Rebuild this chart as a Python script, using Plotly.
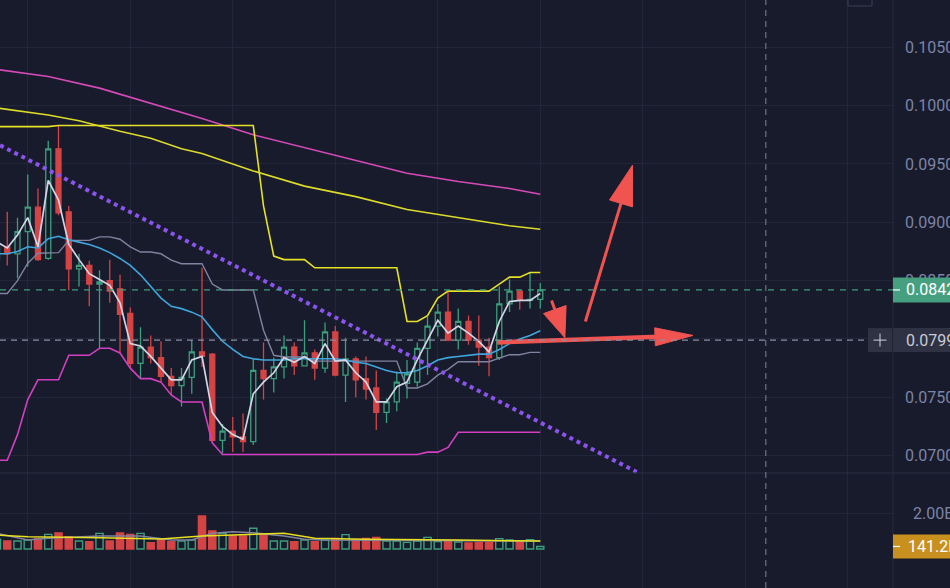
import math
import plotly.graph_objects as go

# ---------------- data ----------------
candle_idx = list(range(54))
opens = [0.0868, 0.0879, 0.0873, 0.0892, 0.0913, 0.0869, 0.0963, 0.0909, 0.0860, 0.0863,
         0.0847, 0.0850, 0.0843, 0.0822, 0.0779, 0.0793, 0.0784, 0.0768, 0.0760, 0.0767,
         0.0789, 0.0787, 0.0713, 0.0721, 0.0716, 0.0712, 0.0773, 0.0766, 0.0776, 0.0793,
         0.0777, 0.0788, 0.0775, 0.0806, 0.0769, 0.0783, 0.0766, 0.0758, 0.0737, 0.0746,
         0.0762, 0.0763, 0.0792, 0.0811, 0.0823, 0.0799, 0.0815, 0.0799, 0.0793, 0.0784,
         0.0830, 0.0841, 0.0833, 0.0834]
highs = [0.0885, 0.0909, 0.0904, 0.0941, 0.0929, 0.0970, 0.0983, 0.0914, 0.0873, 0.0867,
         0.0859, 0.0868, 0.0855, 0.0827, 0.0810, 0.0803, 0.0798, 0.0775, 0.0775, 0.0799,
         0.0861, 0.0788, 0.0727, 0.0733, 0.0736, 0.0783, 0.0797, 0.0784, 0.0803, 0.0797,
         0.0816, 0.0791, 0.0814, 0.0811, 0.0801, 0.0785, 0.0785, 0.0773, 0.0749, 0.0772,
         0.0782, 0.0797, 0.0819, 0.0830, 0.0841, 0.0826, 0.0820, 0.0820, 0.0801, 0.0845,
         0.0851, 0.0842, 0.0857, 0.0848]
lows = [0.0863, 0.0863, 0.0852, 0.0862, 0.0867, 0.0868, 0.0906, 0.0842, 0.0845, 0.0828,
        0.0792, 0.0831, 0.0788, 0.0775, 0.0766, 0.0779, 0.0763, 0.0752, 0.0742, 0.0753,
        0.0776, 0.0712, 0.0702, 0.0703, 0.0703, 0.0709, 0.0748, 0.0754, 0.0766, 0.0769,
        0.0777, 0.0765, 0.0771, 0.0768, 0.0746, 0.0750, 0.0748, 0.0722, 0.0728, 0.0738,
        0.0749, 0.0759, 0.0769, 0.0802, 0.0798, 0.0791, 0.0795, 0.0777, 0.0768, 0.0782,
        0.0823, 0.0825, 0.0826, 0.0826]
closes = [0.0879, 0.0873, 0.0892, 0.0913, 0.0868, 0.0963, 0.0908, 0.0860, 0.0863, 0.0847,
          0.0849, 0.0841, 0.0821, 0.0779, 0.0793, 0.0784, 0.0768, 0.0760, 0.0767, 0.0789,
          0.0785, 0.0713, 0.0721, 0.0716, 0.0712, 0.0773, 0.0766, 0.0776, 0.0793, 0.0777,
          0.0788, 0.0775, 0.0806, 0.0769, 0.0783, 0.0765, 0.0757, 0.0737, 0.0746, 0.0763,
          0.0770, 0.0792, 0.0811, 0.0823, 0.0799, 0.0815, 0.0799, 0.0793, 0.0784, 0.0830,
          0.0841, 0.0833, 0.0834, 0.0842]
volumes = [540e6, 444e6, 444e6, 500e6, 574e6, 815e6, 889e6, 685e6, 444e6, 407e6,
           870e6, 444e6, 889e6, 815e6, 870e6, 352e6, 519e6, 407e6, 444e6, 500e6,
           1830e6, 1000e6, 870e6, 722e6, 722e6, 1150e6, 778e6, 444e6, 444e6, 407e6,
           500e6, 407e6, 500e6, 593e6, 796e6, 500e6, 593e6, 648e6, 444e6, 444e6,
           370e6, 444e6, 648e6, 407e6, 407e6, 389e6, 333e6, 370e6, 370e6, 574e6,
           500e6, 407e6, 519e6, 141.2e6]

# Donchian channel (upper / lower), middle = average
upper_band = [0.0982] * 6 + [0.0983] * 20 + [0.0914, 0.0871] + [0.0868] * 3 + [0.0861] * 9 + \
             [0.0815, 0.0815, 0.0820, 0.0835] + [0.0841] * 5 + [0.0847, 0.0853, 0.0853, 0.0857, 0.0857]
lower_band = [0.0696, 0.0696, 0.0718, 0.0748, 0.0765, 0.0765, 0.0765, 0.0786, 0.0786, 0.0786,
              0.0792, 0.0792, 0.0788, 0.0775, 0.0766, 0.0766, 0.0763, 0.0752, 0.0746, 0.0746,
              0.0746, 0.0711] + [0.0701] * 20 + [0.0703, 0.0703, 0.0707] + [0.0720] * 9

fast_ma = [0.0883, 0.0878, 0.0889, 0.0904, 0.0879, 0.0936, 0.0919, 0.0881, 0.0868, 0.0856,
           0.0851, 0.0846, 0.0831, 0.0796, 0.0794, 0.0785, 0.0775, 0.0765, 0.0765, 0.0782,
           0.0785, 0.0737, 0.0725, 0.0718, 0.0714, 0.0753, 0.0763, 0.0771, 0.0784, 0.0780,
           0.0785, 0.0779, 0.0796, 0.0781, 0.0782, 0.0771, 0.0763, 0.0746, 0.0746, 0.0759,
           0.0763, 0.0782, 0.0799, 0.0816, 0.0805, 0.0811, 0.0805, 0.0798, 0.0789, 0.0815,
           0.0832, 0.0833, 0.0833, 0.0839]
mid_ma = [0.0873, 0.0873, 0.0875, 0.0879, 0.0878, 0.0886, 0.0888, 0.0885, 0.0883, 0.0881,
          0.0878, 0.0874, 0.0869, 0.0863, 0.0855, 0.0845, 0.0835, 0.0828, 0.0826, 0.0823,
          0.0819, 0.0808, 0.0798, 0.0791, 0.0785, 0.0783, 0.0782, 0.0782, 0.0782, 0.0783,
          0.0783, 0.0783, 0.0783, 0.0783, 0.0782, 0.0780, 0.0779, 0.0776, 0.0773, 0.0771,
          0.0771, 0.0773, 0.0777, 0.0782, 0.0784, 0.0785, 0.0786, 0.0787, 0.0787, 0.0791,
          0.0796, 0.0800, 0.0803, 0.0807]
ma_long_idx = [0, 5, 10, 15, 20, 25, 30, 35, 40, 45, 50, 53]
ma_long = [0.1031, 0.1025, 0.1015, 0.1002, 0.0989, 0.0975, 0.0964, 0.0953, 0.0942, 0.0935, 0.0929, 0.0924]
ma_med_idx = [0, 5, 8, 12, 15, 18, 20, 25, 30, 35, 40, 45, 50, 53]
ma_med = [0.0998, 0.0992, 0.0987, 0.0978, 0.0972, 0.0963, 0.0959, 0.0944, 0.0931, 0.0922,
          0.0911, 0.0904, 0.0897, 0.0894]
vol_ma1_idx = [0, 3, 10, 16, 20, 25, 28, 31, 36, 45, 53]
vol_ma1 = [780e6, 680e6, 630e6, 560e6, 720e6, 820e6, 870e6, 600e6, 540e6, 500e6, 440e6]
vol_ma2_idx = [0, 3, 5, 10, 14, 17, 19, 21, 23, 25, 28, 30, 32, 53]
vol_ma2 = [870e6, 500e6, 600e6, 720e6, 720e6, 500e6, 500e6, 870e6, 960e6, 900e6, 720e6,
           540e6, 500e6, 440e6]

price_ticks = [0.070, 0.075, 0.080, 0.085, 0.090, 0.095, 0.100, 0.105]
volume_ticks = [2.0e9]
volume_tick_text = ["2.00B"]
last_price = 0.0842
cursor_price = 0.0799
cursor_idx = 75
last_volume = 141.2e6
last_volume_text = "141.2M"
grid_idx = [3, 13, 23, 33, 43, 53, 63, 73, 83]

# drawings (anchored in bar index / price)
trend_idx = [0.3, 62.4]
trend_price = [0.0966, 0.0686]
arrow_tails = [(57.4, 0.0815), (48.8, 0.0797), (54.1, 0.0833)]
arrow_tips = [(62.0, 0.0949), (67.9, 0.0803), (55.4, 0.0801)]

# ---------------- style ----------------
W, H = 950, 588
R_MARGIN = 57
PLOT_W = W - R_MARGIN
BG = "#181b2c"
GRID = "#222638"
GREEN = "#3c9f7c"
RED = "#d44444"
ARROW_RED = "#f05350"
AXIS_TXT = "#7d84a5"
X_RANGE = [0.2927, 87.41]
Y_RANGE = [0.058652, 0.109055]
V_RANGE = [-2.1667e9, 30.5e9]
SX = PLOT_W / (X_RANGE[1] - X_RANGE[0])
SY = H / (Y_RANGE[1] - Y_RANGE[0])
SV = H / (V_RANGE[1] - V_RANGE[0])
FONT = "Roboto"
FS = 16

fig = go.Figure()

fig.add_trace(go.Candlestick(
    x=candle_idx, open=opens, high=highs, low=lows, close=closes,
    increasing=dict(line=dict(color=GREEN, width=1.3), fillcolor=BG),
    decreasing=dict(line=dict(color=RED, width=1.3), fillcolor=RED),
    whiskerwidth=0, hoverinfo="skip", showlegend=False))


def line(x, y, color, width, dash="solid", yaxis="y"):
    fig.add_trace(go.Scatter(x=x, y=y, mode="lines", yaxis=yaxis,
                             line=dict(color=color, width=width, dash=dash),
                             hoverinfo="skip", showlegend=False))


mid_band = [(u + l) / 2 for u, l in zip(upper_band, lower_band)]
line(ma_long_idx, ma_long, "#d64ab8", 1.6)
line(ma_med_idx, ma_med, "#dcdb2a", 1.6)
line(candle_idx, upper_band, "#e6e124", 1.6)
line(candle_idx, lower_band, "#d23fc0", 1.6)
line(candle_idx, mid_band, "#80839f", 1.4)
line(candle_idx, mid_ma, "#3ea6dc", 1.6)
line(candle_idx, fast_ma, "#d2d5e6", 1.7)
line(trend_idx, trend_price, "#8b53ef", 4, dash="dot")

# volume
vol_fill = [BG if c >= o else RED for o, c in zip(opens, closes)]
vol_line = [GREEN if c >= o else RED for o, c in zip(opens, closes)]
fig.add_trace(go.Bar(x=candle_idx, y=volumes, yaxis="y2", width=0.7,
                     marker=dict(color=vol_fill, line=dict(color=vol_line, width=1.4)),
                     hoverinfo="skip", showlegend=False))
line(vol_ma2_idx, vol_ma2, "#7f839e", 1.5, yaxis="y2")
line(vol_ma1_idx, vol_ma1, "#e6e020", 1.5, yaxis="y2")


# arrows
def to_px(ix, p):
    return (ix - X_RANGE[0]) * SX, (Y_RANGE[1] - p) * SY


def to_data(px, py):
    return px / SX + X_RANGE[0], Y_RANGE[1] - py / SY


shapes = []
arrow_style = [(3, 40, 12), (4.5, 38, 9), (3, 30, 12)]
for (t, h, (sw, hl, hw)) in zip(arrow_tails, arrow_tips, arrow_style):
    tx, ty = to_px(*t)
    hx, hy = to_px(*h)
    L = math.hypot(hx - tx, hy - ty)
    ux, uy = (hx - tx) / L, (hy - ty) / L
    bx, by = hx - ux * hl, hy - uy * hl
    nx, ny = -uy, ux
    p1 = to_data(bx + nx * hw, by + ny * hw)
    p2 = to_data(bx - nx * hw, by - ny * hw)
    base = to_data(bx + ux * 4, by + uy * 4)
    shapes.append(dict(type="line", xref="x", yref="y", x0=t[0], y0=t[1], x1=base[0], y1=base[1],
                       line=dict(color=ARROW_RED, width=sw), layer="above"))
    path = f"M {h[0]},{h[1]} L {p1[0]},{p1[1]} L {p2[0]},{p2[1]} Z"
    shapes.append(dict(type="path", xref="x", yref="y", path=path, fillcolor=ARROW_RED,
                       line=dict(color=ARROW_RED, width=1), layer="above"))

# ---------------- layout ----------------
xr = W / PLOT_W  # right edge of window in paper units
sep_y = V_RANGE[0] + (H - 473) / SV
shapes.append(dict(type="line", xref="paper", yref="y2", x0=0, x1=xr, y0=sep_y, y1=sep_y,
                   line=dict(color="#2a2e41", width=1)))
shapes.append(dict(type="line", xref="paper", yref="paper", x0=1, x1=1, y0=0, y1=1,
                   line=dict(color="#252a3b", width=1)))
# last price line
shapes.append(dict(type="line", xref="paper", yref="y", x0=0, x1=1, y0=last_price, y1=last_price,
                   line=dict(color=GREEN, width=1.3, dash="6px,6px")))
# crosshair
shapes.append(dict(type="line", xref="paper", yref="y", x0=0, x1=1 - 25 / PLOT_W,
                   y0=cursor_price, y1=cursor_price, line=dict(color="#8a8ea0", width=1.3, dash="6px,5px")))
shapes.append(dict(type="line", xref="x", yref="paper", x0=cursor_idx, x1=cursor_idx, y0=0, y1=1,
                   line=dict(color="#6d7183", width=1.2, dash="6px,5px")))
# label boxes
hp = 12.5 / SY
shapes.append(dict(type="rect", xref="paper", yref="y", x0=1, x1=xr + 0.01,
                   y0=last_price - hp, y1=last_price + hp, fillcolor="#46a07f", line=dict(width=0),
                   layer="above"))
shapes.append(dict(type="rect", xref="paper", yref="y", x0=1, x1=xr + 0.01,
                   y0=cursor_price - 12 / SY, y1=cursor_price + 12 / SY, fillcolor="#2e3243",
                   line=dict(width=0), layer="above"))
shapes.append(dict(type="rect", xref="paper", yref="y", x0=1 - 25 / PLOT_W, x1=1 - 1 / PLOT_W,
                   y0=cursor_price - 12 / SY, y1=cursor_price + 12 / SY, fillcolor="#2e3243",
                   line=dict(width=0), layer="above"))
shapes.append(dict(type="line", xref="paper", yref="y", x0=1 - 19.5 / PLOT_W, x1=1 - 6.5 / PLOT_W,
                   y0=cursor_price, y1=cursor_price, line=dict(color="#d0d3dc", width=1), layer="above"))
shapes.append(dict(type="line", xref="paper", yref="y", x0=1 - 13 / PLOT_W, x1=1 - 13 / PLOT_W,
                   y0=cursor_price - 6.5 / SY, y1=cursor_price + 6.5 / SY,
                   line=dict(color="#d0d3dc", width=1), layer="above"))
shapes.append(dict(type="rect", xref="paper", yref="y2", x0=1, x1=xr + 0.01,
                   y0=last_volume - 12 / SV, y1=last_volume + 12 / SV, fillcolor="#c8911f",
                   line=dict(width=0), layer="above"))
shapes.append(dict(type="line", xref="paper", yref="y", x0=1, x1=1 + 7 / PLOT_W,
                   y0=last_price, y1=last_price, line=dict(color="white", width=1.2), layer="above"))
shapes.append(dict(type="line", xref="paper", yref="y2", x0=1, x1=1 + 7 / PLOT_W,
                   y0=last_volume, y1=last_volume, line=dict(color="white", width=1.2), layer="above"))
shapes.append(dict(type="rect", xref="paper", yref="paper", x0=848 / PLOT_W, x1=872 / PLOT_W,
                   y0=1 - 6 / H, y1=1.02, line=dict(color="#3a3f56", width=1), fillcolor=BG))

annotations = [
    dict(xref="paper", yref="y", x=1, y=last_price, xanchor="left", yanchor="middle", xshift=11,
         text=f"{last_price:.4f}", showarrow=False, font=dict(family=FONT, size=FS, color="white")),
    dict(xref="paper", yref="y", x=1, y=cursor_price, xanchor="left", yanchor="middle", xshift=11,
         text=f"{cursor_price:.4f}", showarrow=False, font=dict(family=FONT, size=FS, color="#c9ccd6")),
    dict(xref="paper", yref="y2", x=1, y=last_volume, xanchor="left", yanchor="middle", xshift=13,
         text=last_volume_text, showarrow=False, font=dict(family=FONT, size=FS, color="white")),
]

fig.update_layout(
    width=W, height=H, template="none",
    margin=dict(l=0, r=R_MARGIN, t=0, b=0, pad=0),
    paper_bgcolor=BG, plot_bgcolor=BG,
    showlegend=False, hovermode=False,
    xaxis=dict(range=X_RANGE, showgrid=True, gridcolor=GRID, gridwidth=1, tickvals=grid_idx,
               showticklabels=False, zeroline=False, showline=False, ticks="",
               rangeslider=dict(visible=False), fixedrange=True, automargin=False),
    yaxis=dict(range=Y_RANGE, side="right", tickvals=price_ticks,
               ticktext=[f"{v:.4f}" for v in price_ticks], showgrid=True, gridcolor=GRID,
               zeroline=False, showline=False, ticks="", ticklabelstandoff=11,
               tickfont=dict(family=FONT, size=FS, color=AXIS_TXT), automargin=False, fixedrange=True),
    yaxis2=dict(range=V_RANGE, overlaying="y", side="right", tickvals=volume_ticks,
                ticktext=volume_tick_text, showgrid=True, gridcolor=GRID, zeroline=False,
                showline=False, ticks="", ticklabelstandoff=19,
                tickfont=dict(family=FONT, size=FS, color=AXIS_TXT), automargin=False, fixedrange=True),
    shapes=shapes, annotations=annotations,
)

fig.write_html("out.html", config={"displayModeBar": False})
